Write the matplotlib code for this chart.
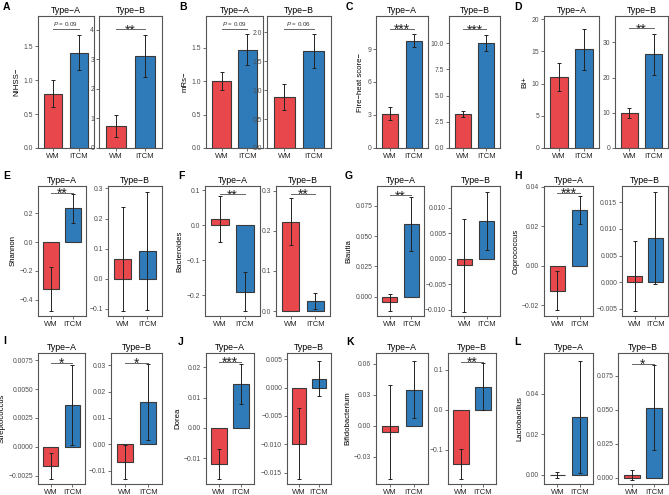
import matplotlib
matplotlib.use('Agg')
import matplotlib.pyplot as plt

plt.rcParams['font.family'] = ['Liberation Sans', 'DejaVu Sans']
plt.rcParams['mathtext.fontset'] = 'custom'
plt.rcParams['mathtext.it'] = 'Liberation Sans:italic'
plt.rcParams['mathtext.rm'] = 'Liberation Sans'

# panel letters and y-axis titles
panels = ['A', 'B', 'C', 'D', 'E', 'F', 'G', 'H', 'I', 'J', 'K', 'L']
ylabels = ['NIHSS−', 'mRs−', 'Fire−heat score−', 'BI+', 'Shannon', 'Bacteroides',
           'Blautia', 'Coprococcus', 'Streptococcus', 'Dorea', 'Bifidobacterium', 'Lactobacillus']
groups = ['WM', 'ITCM']

# Type-A : mean and standard error for WM / ITCM
wm_a_mean = [0.80, 1.00, 3.10, 11.05, -0.325, 0.018, -0.0047, -0.0128, -0.00165, -0.0120, -0.0063, -0.0003]
wm_a_se = [0.20, 0.135, 0.60, 2.15, 0.155, 0.066, 0.0073, 0.0099, 0.00115, 0.0049, 0.0457, 0.0015]
itcm_a_mean = [1.41, 1.47, 9.76, 15.30, 0.235, -0.190, 0.060, 0.0283, 0.00365, 0.0144, 0.0345, 0.0285]
itcm_a_se = [0.26, 0.235, 0.57, 3.25, 0.10, 0.055, 0.022, 0.0073, 0.00345, 0.0066, 0.0276, 0.0275]

# Type-B
wm_b_mean = [0.74, 0.875, 3.25, 10.0, 0.065, 0.223, -0.0013, 0.0011, -0.0067, -0.0099, -0.136, 0.0022]
wm_b_se = [0.37, 0.225, 0.30, 1.35, 0.172, 0.058, 0.0091, 0.0066, 0.00645, 0.00625, 0.0385, 0.0035]
itcm_b_mean = [3.11, 1.67, 10.0, 26.65, 0.092, 0.0255, 0.0074, 0.0083, 0.016, 0.0016, 0.058, 0.0515]
itcm_b_se = [0.72, 0.295, 0.80, 5.85, 0.195, 0.020, 0.0056, 0.0087, 0.0144, 0.0031, 0.0585, 0.031]

# significance labels and their heights
sig_a_text = ['$P$ = 0.09', '$P$ = 0.09', '***', None, '**', '**', '**', '***', '*', '***', None, None]
sig_a_y = [1.76, 1.78, 10.8, None, 0.339, 0.088, 0.0838, 0.037, 0.00727, 0.0218, None, None]
sig_b_text = ['**', '$P$ = 0.06', '***', '**', None, '**', None, None, '*', None, '**', '*']
sig_b_y = [4.01, 2.05, 11.3, 34.0, None, 0.292, None, None, 0.0309, None, 0.1195, 0.0837]

# axis ranges and tick labels
ylim_a = [(0, 1.95), (0, 1.975), (0, 12.0), (0, 20.5), (-0.513, 0.389), (-0.26, 0.112),
          (-0.016, 0.0915), (-0.0255, 0.0405), (-0.00322, 0.00813), (-0.0185, 0.0247),
          (-0.0566, 0.0703), (-0.0046, 0.0602)]
ylim_b = [(0, 4.46), (0, 2.28), (0, 12.58), (0, 37.5), (-0.124, 0.308), (-0.0124, 0.312),
          (-0.0112, 0.01425), (-0.0064, 0.0181), (-0.0151, 0.0347), (-0.017, 0.0061),
          (-0.186, 0.142), (-0.0044, 0.0915)]
ticks_a = [['0.0', '0.5', '1.0', '1.5'], ['0.0', '0.5', '1.0', '1.5'], ['0', '3', '6', '9'],
           ['0', '5', '10', '15', '20'], ['−0.4', '−0.2', '0.0', '0.2'], ['−0.2', '−0.1', '0.0', '0.1'],
           ['0.000', '0.025', '0.050', '0.075'], ['−0.02', '0.00', '0.02', '0.04'],
           ['−0.0025', '0.0000', '0.0025', '0.0050', '0.0075'], ['−0.01', '0.00', '0.01', '0.02'],
           ['−0.03', '0.00', '0.03', '0.06'], ['0.00', '0.02', '0.04']]
ticks_b = [['0', '1', '2', '3', '4'], ['0.0', '0.5', '1.0', '1.5', '2.0'],
           ['0.0', '2.5', '5.0', '7.5', '10.0'], ['0', '10', '20', '30'],
           ['−0.1', '0.0', '0.1', '0.2', '0.3'], ['0.0', '0.1', '0.2', '0.3'],
           ['−0.010', '−0.005', '0.000', '0.005', '0.010'],
           ['−0.005', '0.000', '0.005', '0.010', '0.015'],
           ['−0.01', '0.00', '0.01', '0.02', '0.03'],
           ['−0.015', '−0.010', '−0.005', '0.000', '0.005'],
           ['−0.1', '0.0', '0.1'], ['0.000', '0.025', '0.050', '0.075']]

# layout in pixels (left, right) for each sub-axes, rows (top, bottom)
W, H = 669, 495
pos_a = [(38, 94), (206, 263), (376, 428), (544, 599),
         (38, 86), (205, 260), (377, 424), (544, 593),
         (38, 85), (206, 254), (376, 428), (544, 593)]
pos_b = [(99, 162), (267, 331), (449, 500), (615, 668),
         (108, 162), (276, 330), (451, 500), (622, 668),
         (111, 162), (287, 331), (448, 496), (618, 668)]
rows = [(16, 148), (186, 316), (353, 484)]
letter_pos = [(3, 7), (179, 7), (346, 7), (514, 7),
              (3, 176), (178, 176), (345, 176), (514, 176),
              (3, 341), (178, 342), (346, 342), (514, 342)]

RED = '#E8474B'
BLUE = '#2F7BBA'
EDGE = '#3A3A3A'
GREY = '#4D4D4D'

fig = plt.figure(figsize=(W / 100, H / 100), dpi=100)


def draw(ax, means, ses, ylim, ticks, title, sig, sig_y, ylabel=None):
    ax.bar([1, 2], means, width=0.7, color=[RED, BLUE], edgecolor=EDGE, linewidth=0.8, zorder=2)
    ax.errorbar([1, 2], means, yerr=ses, fmt='none', ecolor='#222222', elinewidth=0.7,
                capsize=1.2, capthick=0.7, zorder=3)
    ax.set_xlim(0.4, 2.6)
    ax.set_ylim(*ylim)
    ax.set_xticks([1, 2])
    ax.set_xticklabels(groups, fontsize=5.5, color='#222222')
    ax.set_yticks([float(t.replace('−', '-')) for t in ticks])
    ax.set_yticklabels(ticks, fontsize=4.9, color=GREY)
    ax.tick_params(length=2, width=0.6, color='#555555', pad=1.5)
    for s in ax.spines.values():
        s.set_color('#555555')
        s.set_linewidth(0.8)
    ax.set_title(title, fontsize=6.3, pad=2.5)
    if ylabel:
        ax.set_ylabel(ylabel, fontsize=5.6, labelpad=2)
    if sig:
        ax.plot([1, 2], [sig_y, sig_y], color='#666666', lw=0.7, zorder=4)
        if sig.startswith('$'):
            ax.annotate(sig, (1.5, sig_y), xytext=(0, 0.8), textcoords='offset points',
                        ha='center', va='bottom', fontsize=4.5, color='#333333')
        else:
            ax.annotate(sig, (1.5, sig_y), xytext=(0, -3.6), textcoords='offset points',
                        ha='center', va='baseline', fontsize=10, color='#222222')


for i in range(12):
    top, bottom = rows[i // 4]
    for j, (pos, means, ses, ylim, ticks, title, sig, sy) in enumerate([
            (pos_a[i], [wm_a_mean[i], itcm_a_mean[i]], [wm_a_se[i], itcm_a_se[i]], ylim_a[i],
             ticks_a[i], 'Type−A', sig_a_text[i], sig_a_y[i]),
            (pos_b[i], [wm_b_mean[i], itcm_b_mean[i]], [wm_b_se[i], itcm_b_se[i]], ylim_b[i],
             ticks_b[i], 'Type−B', sig_b_text[i], sig_b_y[i])]):
        l, r = pos
        ax = fig.add_axes([l / W, 1 - bottom / H, (r - l) / W, (bottom - top) / H])
        draw(ax, means, ses, ylim, ticks, title, sig, sy, ylabels[i] if j == 0 else None)
    lx, ly = letter_pos[i]
    fig.text(lx / W, 1 - ly / H, panels[i], fontsize=7.5, fontweight='bold', va='center', ha='left')

fig.savefig('out.png', dpi=100)
